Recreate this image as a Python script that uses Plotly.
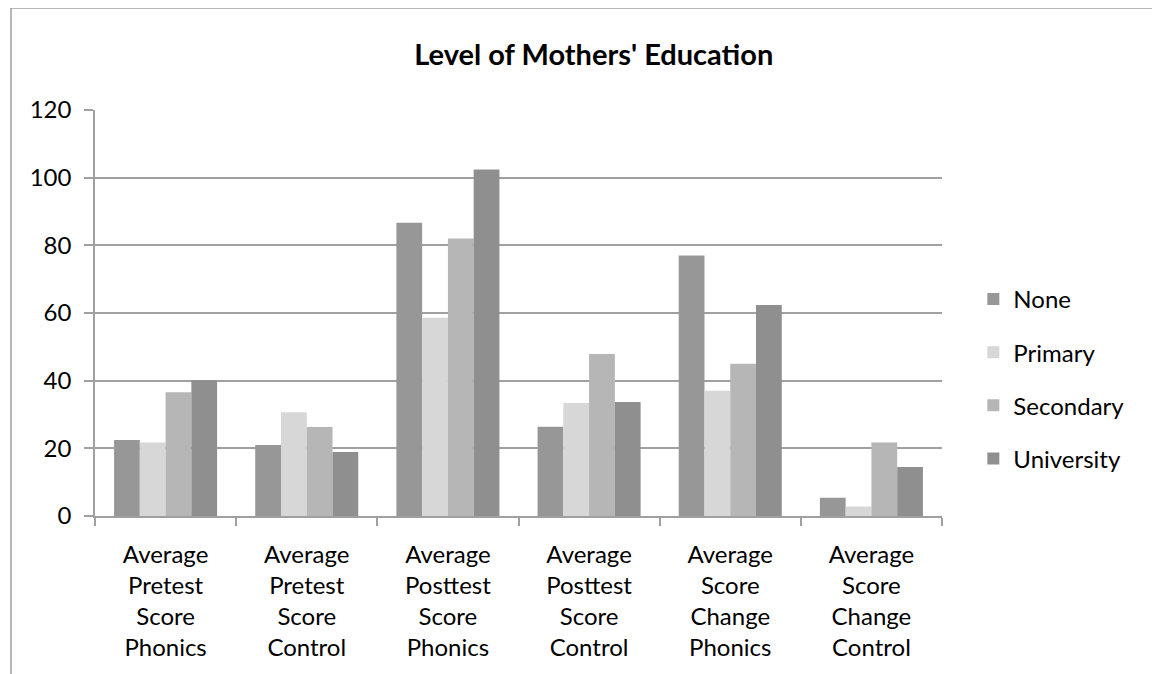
import plotly.graph_objects as go

categories = [
    "Average<br>Pretest<br>Score<br>Phonics",
    "Average<br>Pretest<br>Score<br>Control",
    "Average<br>Posttest<br>Score<br>Phonics",
    "Average<br>Posttest<br>Score<br>Control",
    "Average<br>Score<br>Change<br>Phonics",
    "Average<br>Score<br>Change<br>Control",
]
none_vals = [22.5, 21.0, 86.7, 26.4, 77.0, 5.4]
primary_vals = [21.7, 30.7, 58.6, 33.4, 37.0, 2.8]
secondary_vals = [36.6, 26.3, 82.0, 47.9, 45.0, 21.7]
university_vals = [40.1, 18.9, 102.4, 33.7, 62.4, 14.5]

series_names = ["None", "Primary", "Secondary", "University"]
series_values = [none_vals, primary_vals, secondary_vals, university_vals]
series_colors = ["#979797", "#d7d7d7", "#b6b6b6", "#8f8f8f"]

FONT = "Lato"

fig = go.Figure()
for name, vals, col in zip(series_names, series_values, series_colors):
    fig.add_trace(go.Bar(
        x=categories, y=vals, name=name,
        marker=dict(color=col, line=dict(width=0)),
        legendgroup=name,
    ))

fig.update_layout(
    width=1160, height=674,
    paper_bgcolor="white", plot_bgcolor="white",
    margin=dict(l=87, r=226, t=102, b=166),
    barmode="group", bargap=0.27, bargroupgap=0,
    font=dict(family=FONT, size=24, color="#000000"),
    title=dict(text="<b>Level of Mothers' Education</b>", x=0.505, xanchor="center",
               y=0.931, yanchor="middle", font=dict(family=FONT, size=29, color="#000000")),
    showlegend=True,
    legend=dict(x=1.037, xanchor="left", y=0.589, yanchor="top",
                font=dict(family=FONT, size=24), tracegroupgap=19,
                itemwidth=30, bgcolor="rgba(0,0,0,0)"),
    xaxis=dict(showline=True, linecolor="#a0a0a0", linewidth=1.5,
               ticks="outside", tickson="boundaries", ticklen=8, tickcolor="#a0a0a0",
               tickwidth=1.5, showgrid=False, tickfont=dict(family=FONT, size=24),
               ticklabelstandoff=16),
    yaxis=dict(range=[0, 120], dtick=20, showline=True, linecolor="#a0a0a0", linewidth=1.5,
               ticks="outside", ticklen=9, tickcolor="#a0a0a0", tickwidth=1.5,
               showgrid=True, gridcolor="#a0a0a0", gridwidth=1.5, zeroline=False,
               tickfont=dict(family=FONT, size=24), ticklabelstandoff=8),
    shapes=[dict(type="rect", xref="paper", yref="paper",
                 x0=-0.0992, x1=1.6, y0=-1.0, y1=1.2512,
                 line=dict(color="#a0a0a0", width=1.5), fillcolor="rgba(0,0,0,0)",
                 layer="below")],
)

fig.write_html("out.html")
